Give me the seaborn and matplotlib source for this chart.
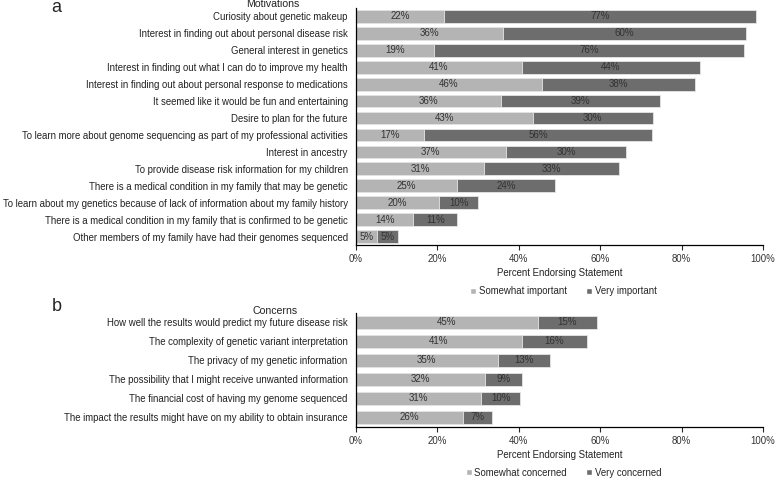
import matplotlib
matplotlib.use("Agg")
import matplotlib.pyplot as plt
import pandas as pd
import seaborn as sns
from matplotlib.patches import Patch

# data (percent of respondents)
motivations = [
    "Curiosity about genetic makeup",
    "Interest in finding out about personal disease risk",
    "General interest in genetics",
    "Interest in finding out what I can do to improve my health",
    "Interest in finding out about personal response to medications",
    "It seemed like it would be fun and entertaining",
    "Desire to plan for the future",
    "To learn more about genome sequencing as part of my professional activities",
    "Interest in ancestry",
    "To provide disease risk information for my children",
    "There is a medical condition in my family that may be genetic",
    "To learn about my genetics because of lack of information about my family history",
    "There is a medical condition in my family that is confirmed to be genetic",
    "Other members of my family have had their genomes sequenced",
]
mot_somewhat = [21.7, 36.1, 19.1, 40.7, 45.7, 35.7, 43.4, 16.7, 36.8, 31.4, 24.7, 20.4, 14.1, 5.2]
mot_very = [76.6, 59.7, 76.2, 43.9, 37.7, 39.1, 29.6, 56.1, 29.6, 33.1, 24.2, 9.6, 10.8, 5.0]

concerns = [
    "How well the results would predict my future disease risk",
    "The complexity of genetic variant interpretation",
    "The privacy of my genetic information",
    "The possibility that I might receive unwanted information",
    "The financial cost of having my genome sequenced",
    "The impact the results might have on my ability to obtain insurance",
]
con_somewhat = [44.6, 40.7, 34.8, 31.8, 30.7, 26.2]
con_very = [14.6, 16.0, 12.8, 8.9, 9.7, 7.1]

xticks = [0, 20, 40, 60, 80, 100]

LIGHT = "#b4b4b4"
DARK = "#6d6d6d"
FS = 6.9

sns.set_theme(style="white")
plt.rcParams['font.family'] = ['Liberation Sans', 'DejaVu Sans']

fig = plt.figure(figsize=(7.75, 4.79), dpi=100)
ax1 = fig.add_axes([0.4594, 0.4885, 0.5252, 0.4948])
ax2 = fig.add_axes([0.4594, 0.1086, 0.5252, 0.2380])


def stacked(ax, labels, somewhat, very, bar_w, leg_names, leg_y):
    df = pd.DataFrame({"label": labels, "somewhat": somewhat, "very": very})
    df["total"] = df["somewhat"] + df["very"]
    # dark bar for the total, light bar on top of it for the first part
    sns.barplot(data=df, x="total", y="label", color=DARK, width=bar_w,
                edgecolor="#e6e6e6", linewidth=0.6, saturation=1, ax=ax)
    sns.barplot(data=df, x="somewhat", y="label", color=LIGHT, width=bar_w,
                edgecolor="#e6e6e6", linewidth=0.6, saturation=1, ax=ax)
    for i, row in df.iterrows():
        ax.text(row["somewhat"] / 2, i, f"{round(row['somewhat']):.0f}%",
                ha="center", va="center", fontsize=7, color="#333333")
        ax.text(row["somewhat"] + row["very"] / 2, i, f"{round(row['very']):.0f}%",
                ha="center", va="center", fontsize=7, color="#333333")
    ax.set_xlim(0, 100)
    ax.set_ylim(len(labels) - 0.5, -0.5)
    ax.set_xticks(xticks)
    ax.set_xticklabels([f"{t}%" for t in xticks], color="#333333")
    ax.set_ylabel("")
    ax.set_xlabel("Percent Endorsing Statement", color="#222222", labelpad=3,
                  fontsize=FS)
    ax.tick_params(axis="y", length=0, pad=6, labelsize=FS, labelcolor="#222222")
    ax.tick_params(axis="x", length=3.5, width=0.8, direction="out", bottom=True,
                   pad=3, labelsize=FS)
    sns.despine(ax=ax)
    for s in ("left", "bottom"):
        ax.spines[s].set_color("black")
        ax.spines[s].set_linewidth(0.9)
    handles = [Patch(facecolor=LIGHT, label=leg_names[0]),
               Patch(facecolor=DARK, label=leg_names[1])]
    ax.legend(handles=handles, loc="center", bbox_to_anchor=(0.51, leg_y), ncol=2,
              frameon=False, handlelength=0.6, handleheight=0.6, handletextpad=0.3,
              columnspacing=2.0, fontsize=FS)


stacked(ax1, motivations, mot_somewhat, mot_very, 0.75,
        ["Somewhat important", "Very important"], -0.195)
stacked(ax2, concerns, con_somewhat, con_very, 0.71,
        ["Somewhat concerned", "Very concerned"], -0.40)

fig.text(0.352, 0.991, "Motivations", ha="center", va="center", fontsize=7.6, color="#222222")
fig.text(0.355, 0.3497, "Concerns", ha="center", va="center", fontsize=7.6, color="#222222")
fig.text(0.072, 0.984, "a", ha="center", va="center", fontsize=13)
fig.text(0.073, 0.36, "b", ha="center", va="center", fontsize=13)

fig.savefig("out.png", dpi=100)
